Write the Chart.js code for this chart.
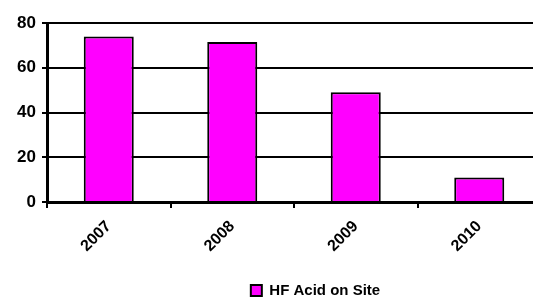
<!DOCTYPE html>
<html>
<head>
<meta charset="utf-8">
<script src="https://cdn.jsdelivr.net/npm/chart.js@4.4.1/dist/chart.umd.min.js"></script>
<style>
  body { margin: 0; overflow: hidden; background: #fff; }
  #wrap { width: 545px; height: 299px; }
</style>
</head>
<body>
<div id="wrap"><canvas id="myChart" width="545" height="299"></canvas></div>
<script>
  const years = ['2007', '2008', '2009', '2010'];
  const hfAcid = [74, 71.5, 49, 11];
  const yTicks = [0, 20, 40, 60, 80];

  Chart.defaults.font.family = "'Liberation Sans', Arial, sans-serif";
  Chart.defaults.font.weight = 'bold';
  Chart.defaults.color = '#000';

  // decale la legende (droite + bas) comme dans l'original
  const shiftLegend = {
    id: 'shiftLegend',
    afterLayout(chart) {
      const lg = chart.legend;
      lg.left += 45;
      lg.right += 45;
      lg.top += 9;
      lg.bottom += 9;
    }
  };

  const ctx = document.getElementById('myChart');

  new Chart(ctx, {
    type: 'bar',
    data: {
      labels: years,
      datasets: [{
        label: 'HF Acid on Site',
        data: hfAcid,
        backgroundColor: '#ff00ff',
        borderColor: '#000',
        borderWidth: 2,
        categoryPercentage: 1,
        barPercentage: 0.405
      }]
    },
    options: {
      responsive: false,
      animation: false,
      layout: { padding: { top: 23, right: 4, left: 0, bottom: 0 } },
      plugins: {
        tooltip: { enabled: false },
        legend: {
          position: 'bottom',
          labels: {
            boxWidth: 11,
            boxHeight: 11,
            padding: 6,
            font: { size: 15, weight: 'bold' }
          }
        }
      },
      scales: {
        x: {
          afterFit: s => { s.height = 66; },
          grid: {
            display: true,
            drawOnChartArea: false,
            color: '#000',
            lineWidth: 2,
            tickLength: 6
          },
          border: { color: '#000', width: 3 },
          ticks: {
            minRotation: 45,
            maxRotation: 45,
            padding: 9,
            font: { size: 16, weight: 'bold' }
          }
        },
        y: {
          min: 0,
          max: 80,
          afterFit: s => { s.width = 47; },
          afterBuildTicks: s => { s.ticks = yTicks.map(v => ({ value: v })); },
          grid: {
            color: '#000',
            lineWidth: 2,
            tickLength: 5
          },
          border: { color: '#000', width: 3 },
          ticks: {
            padding: 6,
            font: { size: 17, weight: 'bold' }
          }
        }
      }
    },
    plugins: [shiftLegend]
  });
</script>
</body>
</html>
